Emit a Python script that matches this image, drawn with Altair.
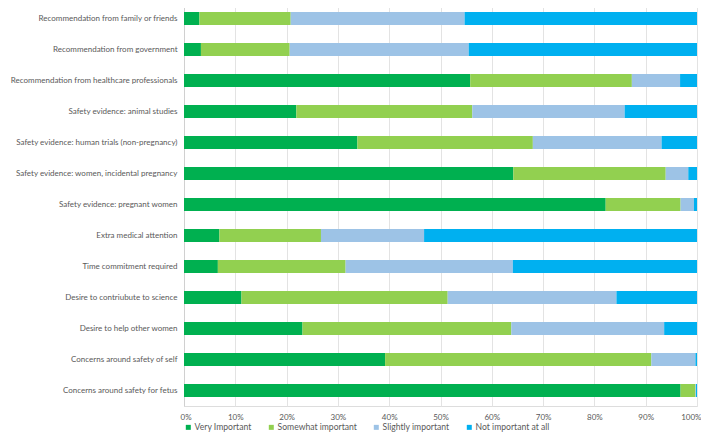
import altair as alt
import pandas as pd

categories = [
    "Recommendation from  family or friends",
    "Recommendation from government",
    "Recommendation from healthcare professionals",
    "Safety evidence: animal studies",
    "Safety evidence: human trials (non-pregnancy)",
    "Safety evidence: women, incidental pregnancy",
    "Safety evidence: pregnant women",
    "Extra medical attention",
    "Time commitment required",
    "Desire to contriubute to science",
    "Desire to help other women",
    "Concerns around safety of self",
    "Concerns around safety for fetus",
]
levels = ["Very Important", "Somewhat important", "Slightly important", "Not important at all"]
colors = ["#00B050", "#92D050", "#9DC3E6", "#00B0F0"]

very = [3.0, 3.3, 55.8, 21.9, 33.8, 64.2, 82.2, 6.9, 6.6, 11.2, 23.1, 39.2, 96.8]
somewhat = [17.8, 17.3, 31.5, 34.3, 34.2, 29.7, 14.6, 19.8, 24.9, 40.2, 40.7, 51.9, 2.9]
slightly = [33.9, 34.9, 9.4, 29.7, 25.1, 4.4, 2.6, 20.1, 32.6, 32.9, 29.8, 8.6, 0.1]
not_at_all = [45.3, 44.5, 3.3, 14.1, 6.9, 1.7, 0.6, 53.2, 35.9, 15.7, 6.4, 0.3, 0.2]

rows = []
for i, c in enumerate(categories):
    for j, (lvl, vals) in enumerate(zip(levels, [very, somewhat, slightly, not_at_all])):
        rows.append({"category": c, "level": lvl, "order": j, "value": vals[i] / 100.0})
df = pd.DataFrame(rows)

FONT = "Lato"

chart = (
    alt.Chart(df)
    .mark_bar(size=13)
    .encode(
        y=alt.Y(
            "category:N",
            sort=categories,
            title=None,
            axis=alt.Axis(
                labelFont=FONT,
                labelFontSize=8,
                labelColor="#595959",
                labelPadding=7,
                ticks=False,
                domain=True,
                domainColor="#D0D0D0",
                grid=False,
                labelLimit=300,
            ),
            scale=alt.Scale(paddingInner=0.58, paddingOuter=0.29),
        ),
        x=alt.X(
            "value:Q",
            stack="zero",
            title=None,
            scale=alt.Scale(domain=[0, 1], nice=False),
            axis=alt.Axis(
                format=".0%",
                values=[i / 10 for i in range(11)],
                labelFont=FONT,
                labelFontSize=8,
                labelColor="#595959",
                labelPadding=7,
                ticks=False,
                domain=False,
                grid=True,
                gridColor="#E3E3E3",
                labelFlush=True,
                labelFlushOffset=4,
            ),
        ),
        color=alt.Color(
            "level:N",
            sort=levels,
            scale=alt.Scale(domain=levels, range=colors),
            legend=alt.Legend(
                title=None,
                orient="bottom",
                direction="horizontal",
                symbolType="square",
                symbolSize=25,
                symbolStrokeWidth=0,
                labelFont=FONT,
                labelFontSize=8.6,
                labelColor="#595959",
                columnPadding=15,
                offset=2,
                labelOffset=2,
            ),
        ),
        order=alt.Order("order:Q", sort="ascending"),
    )
    .properties(
        width=513,
        height=403,
        autosize=alt.AutoSizeParams(type="none"),
        padding={"top": -5, "left": 176, "right": 4, "bottom": 28},
    )
    .configure_view(stroke=None)
    .configure(background="white")
)

chart.save("out.html", embed_options={"renderer": "svg", "actions": False})
